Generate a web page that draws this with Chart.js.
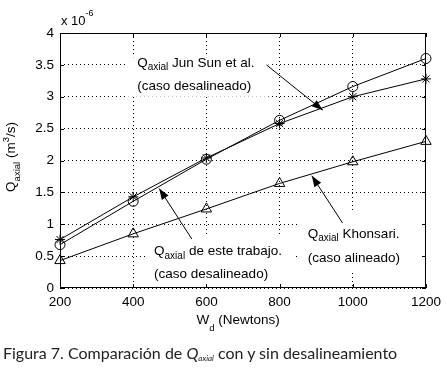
<!DOCTYPE html>
<html>
<head>
<meta charset="utf-8">
<script src="https://cdn.jsdelivr.net/npm/chart.js@4.4.1/dist/chart.umd.min.js"></script>
<style>
  body { margin: 0; background: #fff; }
  #wrap { position: relative; width: 447px; height: 370px; }
  #grafica { position: absolute; left: 0; top: 0; }
  #caption {
    position: absolute; left: 3px; top: 343px;
    font-family: Lato, "Open Sans", sans-serif; font-size: 16px; color: #222;
    white-space: nowrap; line-height: 19px;
  }
  #caption sub { font-size: 8px; font-style: italic; vertical-align: -2px; }
</style>
</head>
<body>
<div id="wrap">
  <canvas id="grafica" width="447" height="370"></canvas>
  <div id="caption">Figura 7. Comparación de <i>Q</i><sub>axial</sub> con y sin desalineamiento</div>
</div>
<script>
// datos (Q en unidades de 1e-6 m3/s)
const cargas = [200, 400, 600, 800, 1000, 1200];
const qEsteTrabajo = [0.68, 1.36, 2.02, 2.63, 3.16, 3.60];
const qJunSun = [0.76, 1.43, 2.04, 2.58, 3.00, 3.28];
const qKhonsari = [0.43, 0.85, 1.24, 1.64, 1.98, 2.30];
const ticksX = [200, 400, 600, 800, 1000, 1200];
const ticksY = [0, 0.5, 1, 1.5, 2, 2.5, 3, 3.5, 4];

const FUENTE = '"Liberation Sans", Arial, sans-serif';

function puntos(ys) {
  return cargas.map((x, i) => ({ x: x, y: ys[i] }));
}

// texto con subindice: partes [[texto, esSub], ...]
function textoSub(ctx, partes, x, y, size) {
  let cx = x;
  partes.forEach(p => {
    if (p[1]) {
      ctx.font = Math.round(size * 0.72) + 'px ' + FUENTE;
      ctx.fillText(p[0], cx, y + size * 0.35);
    } else {
      ctx.font = size + 'px ' + FUENTE;
      ctx.fillText(p[0], cx, y);
    }
    cx += ctx.measureText(p[0]).width;
  });
  return cx - x;
}

function flecha(ctx, x1, y1, x2, y2) {
  ctx.beginPath();
  ctx.moveTo(x1, y1);
  ctx.lineTo(x2, y2);
  ctx.stroke();
  const a = Math.atan2(y2 - y1, x2 - x1);
  const l = 11, w = 4;
  ctx.beginPath();
  ctx.moveTo(x2, y2);
  ctx.lineTo(x2 - l * Math.cos(a) + w * Math.sin(a), y2 - l * Math.sin(a) - w * Math.cos(a));
  ctx.lineTo(x2 - l * Math.cos(a) - w * Math.sin(a), y2 - l * Math.sin(a) + w * Math.cos(a));
  ctx.closePath();
  ctx.fill();
}

// anotaciones en coordenadas de datos
const notas = [
  { lineas: [[['Q', 0], ['axial', 1], [' Jun Sun et al.', 0]], [['(caso desalineado)', 0]]],
    x: 411, y1: 3.53, y2: 3.17, caja: [378, 3.62, 770, 3.0],
    desde: [764, 3.50], hasta: [918, 2.79] },
  { lineas: [[['Q', 0], ['axial', 1], [' de este trabajo.', 0]], [['(caso desalineado)', 0]]],
    x: 457, y1: 0.58, y2: 0.22, caja: [440, 0.8, 840, 0.03],
    desde: [560, 0.77], hasta: [471, 1.56] },
  { lineas: [[['Q', 0], ['axial', 1], [' Khonsari.', 0]], [['(caso alineado)', 0]]],
    x: 877, y1: 0.85, y2: 0.47, caja: [850, 1.18, 1195, 0.28],
    desde: [972, 1.02], hasta: [888, 1.76] }
];

const marco = {
  id: 'marco',
  beforeDatasetsDraw(chart) {
    const ctx = chart.ctx, sx = chart.scales.x, sy = chart.scales.y;
    ctx.save();
    ctx.fillStyle = '#fff';
    notas.forEach(n => {
      const c = n.caja;
      const x1 = sx.getPixelForValue(c[0]), y1 = sy.getPixelForValue(c[1]);
      const x2 = sx.getPixelForValue(c[2]), y2 = sy.getPixelForValue(c[3]);
      ctx.fillRect(x1, y1, x2 - x1, y2 - y1);
    });
    ctx.restore();
  },
  afterDatasetsDraw(chart) {
    const ctx = chart.ctx, a = chart.chartArea;
    const sx = chart.scales.x, sy = chart.scales.y;
    ctx.save();
    // caja y marcas hacia dentro
    ctx.strokeStyle = '#000';
    ctx.lineWidth = 1;
    ctx.strokeRect(a.left + 0.5, a.top + 0.5, a.right - a.left - 1, a.bottom - a.top - 1);
    ctx.beginPath();
    ticksX.forEach(v => {
      const px = Math.round(sx.getPixelForValue(v)) + 0.5;
      ctx.moveTo(px, a.bottom); ctx.lineTo(px, a.bottom - 4);
      ctx.moveTo(px, a.top); ctx.lineTo(px, a.top + 4);
    });
    ticksY.forEach(v => {
      const py = Math.round(sy.getPixelForValue(v)) + 0.5;
      ctx.moveTo(a.left, py); ctx.lineTo(a.left + 4, py);
      ctx.moveTo(a.right, py); ctx.lineTo(a.right - 4, py);
    });
    ctx.stroke();

    // anotaciones
    ctx.fillStyle = '#000';
    ctx.textBaseline = 'middle';
    ctx.textAlign = 'left';
    notas.forEach(n => {
      const px = sx.getPixelForValue(n.x);
      textoSub(ctx, n.lineas[0], px, sy.getPixelForValue(n.y1), 13.5);
      textoSub(ctx, n.lineas[1], px, sy.getPixelForValue(n.y2), 13.5);
      flecha(ctx, sx.getPixelForValue(n.desde[0]), sy.getPixelForValue(n.desde[1]),
        sx.getPixelForValue(n.hasta[0]), sy.getPixelForValue(n.hasta[1]));
    });

    // multiplicador
    ctx.textBaseline = 'alphabetic';
    ctx.font = '13px ' + FUENTE;
    ctx.fillText('x 10', a.left + 1, a.top - 8);
    const w = ctx.measureText('x 10').width;
    ctx.font = '9px ' + FUENTE;
    ctx.fillText('-6', a.left + 1 + w, a.top - 17);

    // titulo eje x
    ctx.textBaseline = 'alphabetic';
    ctx.font = '13.5px ' + FUENTE;
    const wx = ctx.measureText('W').width + 7 + ctx.measureText(' (Newtons)').width;
    let cx = 239 - wx / 2;
    ctx.fillText('W', cx, 324);
    cx += ctx.measureText('W').width;
    ctx.font = '9.5px ' + FUENTE;
    ctx.fillText('d', cx, 331);
    cx += ctx.measureText('d').width;
    ctx.font = '13.5px ' + FUENTE;
    ctx.fillText(' (Newtons)', cx, 324);

    // titulo eje y
    ctx.translate(15, 157);
    ctx.rotate(-Math.PI / 2);
    const partes = [['Q', 0, 13.5, 0], ['axial', 1, 9.5, 5], [' (m', 0, 13.5, 0], ['3', 0, 9.5, -6], ['/s)', 0, 13.5, 0]];
    let tot = 0;
    partes.forEach(p => { ctx.font = p[2] + 'px ' + FUENTE; tot += ctx.measureText(p[0]).width; });
    let ty = -tot / 2;
    partes.forEach(p => {
      ctx.font = p[2] + 'px ' + FUENTE;
      ctx.fillText(p[0], ty, p[3]);
      ty += ctx.measureText(p[0]).width;
    });
    ctx.restore();
  }
};

function serie(nombre, ys, estilo, radio) {
  return {
    label: nombre,
    data: puntos(ys),
    borderColor: '#000',
    backgroundColor: 'rgba(0,0,0,0)',
    borderWidth: 1,
    pointStyle: estilo,
    pointRadius: radio,
    pointBorderWidth: 1,
    pointBorderColor: '#000',
    pointBackgroundColor: 'rgba(0,0,0,0)',
    tension: 0,
    clip: false
  };
}

const ctx = document.getElementById('grafica').getContext('2d');
new Chart(ctx, {
  type: 'line',
  data: {
    datasets: [
      serie('Q axial de este trabajo (caso desalineado)', qEsteTrabajo, 'circle', 5),
      serie('Q axial Jun Sun et al. (caso desalineado)', qJunSun, 'star', 5),
      serie('Q axial Khonsari (caso alineado)', qKhonsari, 'triangle', 6)
    ]
  },
  options: {
    responsive: false,
    animation: false,
    layout: { padding: { left: 0, top: 33, right: 18, bottom: 52 } },
    plugins: { legend: { display: false }, tooltip: { enabled: false } },
    scales: {
      x: {
        type: 'linear', min: 200, max: 1200,
        afterBuildTicks: s => { s.ticks = ticksX.map(v => ({ value: v })); },
        afterFit: s => { s.height = 30; },
        grid: { color: '#000', lineWidth: 1, drawTicks: false },
        border: { display: false, dash: [1, 3] },
        ticks: { color: '#000', font: { family: FUENTE, size: 13.5 }, padding: 6, maxRotation: 0,
          callback: v => String(v) }
      },
      y: {
        min: 0, max: 4,
        afterBuildTicks: s => { s.ticks = ticksY.map(v => ({ value: v })); },
        afterFit: s => { s.width = 60; },
        grid: { color: '#000', lineWidth: 1, drawTicks: false },
        border: { display: false, dash: [1, 3] },
        ticks: { color: '#000', font: { family: FUENTE, size: 13.5 }, padding: 6,
          callback: v => String(v) }
      }
    }
  },
  plugins: [marco]
});
</script>
</body>
</html>
